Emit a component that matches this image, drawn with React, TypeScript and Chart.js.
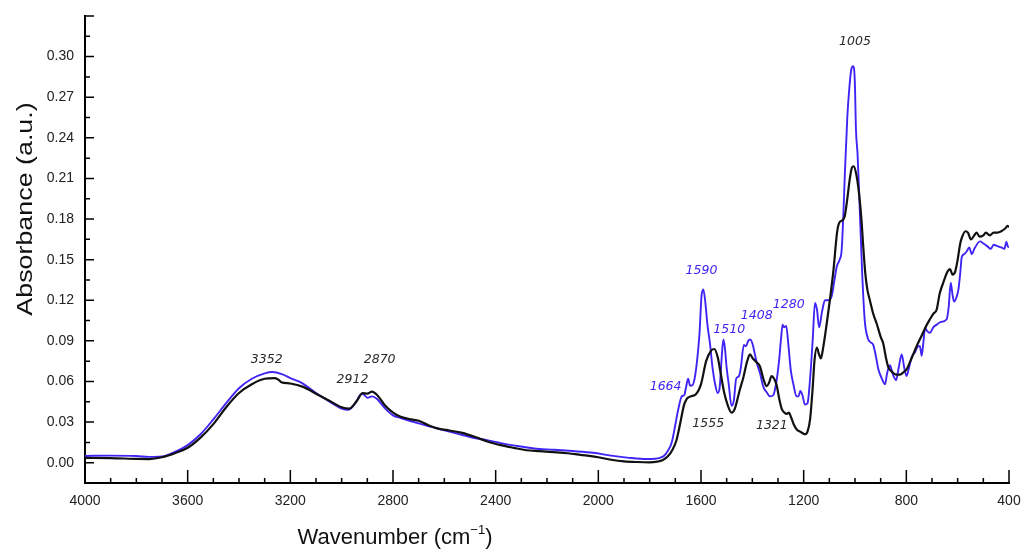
import React, { useEffect, useRef } from 'react';
import { Chart, registerables } from 'chart.js';

Chart.register(...registerables);

// ---- Data ----
const xTickValues = [4000, 3600, 3200, 2800, 2400, 2000, 1600, 1200, 800, 400];
const yTickValues = [0, 0.03, 0.06, 0.09, 0.12, 0.15, 0.18, 0.21, 0.24, 0.27, 0.3];

const wavenumbersBlack = [
  4000, 3900, 3800, 3750, 3700, 3650, 3600, 3550, 3500, 3450, 3400, 3350, 3300, 3260, 3245, 3235, 3200, 3150, 3100, 3050,
  3000, 2970, 2940, 2918, 2900, 2882, 2862, 2830, 2800, 2770, 2730, 2700, 2660, 2620, 2580, 2530, 2480, 2430, 2380, 2330,
  2280, 2230, 2175, 2120, 2070, 2000, 1950, 1900, 1850, 1800, 1770, 1750, 1730, 1710, 1695, 1680, 1667, 1656, 1640, 1620,
  1600, 1580, 1560, 1548, 1535, 1526, 1510, 1495, 1481, 1468, 1450, 1435, 1420, 1409, 1398, 1383, 1370, 1357, 1344, 1335,
  1325, 1315, 1305, 1295, 1286, 1275, 1265, 1258, 1248, 1238, 1227, 1210, 1195, 1185, 1175, 1165, 1158, 1149, 1140, 1133,
  1124, 1110, 1098, 1084, 1070, 1062, 1050, 1040, 1030, 1020, 1012, 1005, 995, 985, 975, 968, 960, 952, 942, 929,
  916, 900, 890, 880, 871, 855, 840, 825, 810, 799, 780, 760, 740, 720, 708, 695, 682, 670, 656, 640,
  630, 620, 610, 600, 590, 584, 570, 560, 548, 535, 526, 515, 500, 490, 475, 460, 445, 430, 415, 405, 400,
];
const absorbanceBlack = [
  0.0035, 0.0034, 0.0028, 0.0027, 0.004, 0.007, 0.011, 0.0185, 0.0285, 0.041, 0.0515, 0.058, 0.062, 0.0625, 0.0612, 0.0595, 0.0585, 0.056, 0.051, 0.046,
  0.041, 0.04, 0.046, 0.0515, 0.051, 0.0525, 0.05, 0.042, 0.037, 0.034, 0.032, 0.031, 0.0275, 0.025, 0.0238, 0.022, 0.019, 0.0155, 0.013, 0.011,
  0.0092, 0.0085, 0.0078, 0.007, 0.0058, 0.004, 0.0022, 0.001, 0.0005, 0.0003, 0.0008, 0.0018, 0.0045, 0.01, 0.017, 0.03, 0.042, 0.047, 0.049, 0.0505,
  0.058, 0.075, 0.083, 0.084, 0.078, 0.069, 0.052, 0.042, 0.037, 0.04, 0.053, 0.063, 0.075, 0.08, 0.077, 0.074, 0.071, 0.062, 0.0565, 0.059,
  0.064, 0.062, 0.057, 0.047, 0.04, 0.037, 0.036, 0.037, 0.033, 0.028, 0.0245, 0.0225, 0.021, 0.023, 0.032, 0.055, 0.075, 0.085, 0.08, 0.077,
  0.085, 0.103, 0.12, 0.142, 0.17, 0.177, 0.179, 0.182, 0.195, 0.21, 0.218, 0.219, 0.213, 0.2, 0.18, 0.16, 0.14, 0.128, 0.12, 0.11,
  0.103, 0.093, 0.088, 0.078, 0.071, 0.067, 0.065, 0.065, 0.067, 0.069, 0.077, 0.086, 0.094, 0.102, 0.106, 0.11, 0.113, 0.125, 0.133, 0.141,
  0.143, 0.139, 0.141, 0.15, 0.162, 0.166, 0.171, 0.17, 0.165, 0.168, 0.17, 0.167, 0.168, 0.17, 0.168, 0.17, 0.17, 0.171, 0.173, 0.175, 0.174,
];

const wavenumbersBlue = [
  4000, 3900, 3800, 3750, 3700, 3650, 3600, 3550, 3500, 3450, 3400, 3350, 3300, 3270, 3233, 3200, 3156, 3100, 3050, 3000,
  2975, 2950, 2922, 2912, 2900, 2882, 2862, 2830, 2800, 2770, 2700, 2650, 2600, 2550, 2500, 2430, 2380, 2330, 2250, 2175,
  2100, 2020, 1950, 1880, 1812, 1780, 1760, 1745, 1730, 1714, 1700, 1688, 1675, 1665, 1658, 1650, 1643, 1635, 1625, 1615,
  1606, 1598, 1591, 1584, 1575, 1565, 1555, 1545, 1535, 1527, 1520, 1513, 1507, 1500, 1492, 1481, 1472, 1463, 1452, 1445,
  1433, 1425, 1416, 1408, 1398, 1390, 1383, 1370, 1357, 1344, 1331, 1318, 1306, 1296, 1288, 1282, 1276, 1268, 1260, 1250,
  1240, 1228, 1220, 1213, 1205, 1195, 1185, 1175, 1165, 1156, 1148, 1140, 1128, 1117, 1105, 1091, 1080, 1071, 1060, 1052,
  1045, 1039, 1030, 1022, 1014, 1007, 1001, 996, 990, 982, 972, 962, 950, 940, 929, 918, 909, 895, 883, 875,
  864, 852, 840, 830, 818, 808, 799, 790, 779, 765, 755, 747, 740, 733, 727, 718, 708, 695, 682, 665,
  643, 635, 627, 620, 614, 605, 597, 590, 584, 575, 565, 555, 545, 535, 513, 500, 485, 471, 460, 445,
  430, 418, 410, 405, 400,
];
const absorbanceBlue = [
  0.005, 0.0052, 0.0049, 0.0043, 0.0046, 0.008, 0.013, 0.021, 0.032, 0.044, 0.055, 0.062, 0.066, 0.067, 0.0655, 0.0625, 0.059, 0.0515, 0.0455, 0.04,
  0.039, 0.043, 0.051, 0.05, 0.048, 0.049, 0.047, 0.04, 0.035, 0.033, 0.029, 0.0265, 0.024, 0.0215, 0.019, 0.0165, 0.0145, 0.0128, 0.0105, 0.0096,
  0.0086, 0.0073, 0.0052, 0.0036, 0.0027, 0.0029, 0.0036, 0.005, 0.0085, 0.015, 0.028, 0.04, 0.049, 0.05, 0.056, 0.062, 0.057, 0.057, 0.062, 0.076,
  0.095, 0.123, 0.128, 0.12, 0.102, 0.088, 0.07, 0.058, 0.0515, 0.056, 0.076, 0.091, 0.085, 0.07, 0.058, 0.042, 0.046, 0.062, 0.064, 0.07,
  0.087, 0.086, 0.09, 0.091, 0.087, 0.08, 0.074, 0.066, 0.056, 0.052, 0.049, 0.05, 0.06, 0.075, 0.092, 0.102, 0.1, 0.101, 0.088, 0.068,
  0.058, 0.049, 0.049, 0.053, 0.05, 0.043, 0.044, 0.062, 0.09, 0.118, 0.113, 0.1, 0.112, 0.12, 0.12, 0.123, 0.135, 0.145, 0.15, 0.157,
  0.185, 0.216, 0.255, 0.277, 0.291, 0.293, 0.283, 0.245, 0.228, 0.19, 0.14, 0.105, 0.092, 0.089, 0.087, 0.078, 0.069, 0.062, 0.058, 0.066,
  0.072, 0.065, 0.061, 0.07, 0.08, 0.07, 0.064, 0.07, 0.078, 0.082, 0.086, 0.086, 0.079, 0.09, 0.0995, 0.097, 0.096, 0.1, 0.102, 0.104,
  0.106, 0.115, 0.133, 0.124, 0.119, 0.122, 0.128, 0.14, 0.152, 0.154, 0.156, 0.159, 0.154, 0.158, 0.1635, 0.162, 0.16, 0.158, 0.161, 0.16,
  0.159, 0.158, 0.163, 0.16, 0.159,
];

// Peak annotations
const peakLabels = ['3352', '2912', '2870', '1664', '1590', '1510', '1408', '1280', '1555', '1321', '1005'];
const peakLabelWn = [3292, 2958, 2852, 1738, 1598, 1490, 1383, 1258, 1572, 1324, 1000];
const peakLabelValue = [0.076, 0.0615, 0.076, 0.056, 0.1415, 0.098, 0.1085, 0.117, 0.0285, 0.0275, 0.311];
const peakLabelSeries = ['black', 'black', 'black', 'blue', 'blue', 'blue', 'blue', 'blue', 'black', 'black', 'black'];

const BLACK = '#111111';
const BLUE = '#3f25f4';
const LABEL_BLACK = '#2a2a2a';

const toPoints = (xs: number[], ys: number[]) => xs.map((x, i) => ({ x, y: ys[i] }));

const decorPlugin = {
  id: 'decor',
  afterDatasetsDraw(chart: any) {
    const { ctx, chartArea, scales } = chart;
    const xs = scales.x;
    const ys = scales.y;
    ctx.save();
    // inner tick marks
    ctx.strokeStyle = '#000';
    ctx.lineWidth = 1.5;
    ctx.beginPath();
    for (let w = 400; w <= 4000; w += 100) {
      const px = xs.getPixelForValue(w);
      const len = w % 400 === 0 ? 13 : 5;
      ctx.moveTo(px, chartArea.bottom);
      ctx.lineTo(px, chartArea.bottom - len);
    }
    for (let i = -1; i <= 22; i++) {
      const v = i * 0.015;
      const py = ys.getPixelForValue(v);
      const len = i % 2 === 0 ? 9 : 5;
      ctx.moveTo(chartArea.left, py);
      ctx.lineTo(chartArea.left + len, py);
    }
    ctx.stroke();

    // peak labels
    ctx.font = 'italic 12.5px "DejaVu Sans", sans-serif';
    ctx.textAlign = 'center';
    ctx.textBaseline = 'middle';
    peakLabels.forEach((t, i) => {
      ctx.fillStyle = peakLabelSeries[i] === 'blue' ? BLUE : LABEL_BLACK;
      ctx.fillText(t, xs.getPixelForValue(peakLabelWn[i]), ys.getPixelForValue(peakLabelValue[i]));
    });

    // y title
    ctx.fillStyle = '#111';
    ctx.save();
    ctx.translate(26, 209);
    ctx.rotate(-Math.PI / 2);
    ctx.scale(1.22, 1);
    ctx.font = '22px "Liberation Sans", Arial, sans-serif';
    ctx.textAlign = 'center';
    ctx.textBaseline = 'middle';
    ctx.fillText('Absorbance (a.u.)', 0, 0);
    ctx.restore();

    // x title with superscript
    const mainFont = '22px "Liberation Sans", Arial, sans-serif';
    const supFont = '13px "Liberation Sans", Arial, sans-serif';
    const p1 = 'Wavenumber (cm';
    const sup = '\u22121';
    const p3 = ')';
    ctx.font = mainFont;
    const w1 = ctx.measureText(p1).width;
    const w3 = ctx.measureText(p3).width;
    ctx.font = supFont;
    const w2 = ctx.measureText(sup).width;
    const total = w1 + w2 + w3;
    const cx = chartArea.left + 310;
    const cy = 538;
    const x0 = cx - total / 2;
    ctx.textAlign = 'left';
    ctx.textBaseline = 'middle';
    ctx.font = mainFont;
    ctx.fillText(p1, x0, cy);
    ctx.font = supFont;
    ctx.fillText(sup, x0 + w1, cy - 8);
    ctx.font = mainFont;
    ctx.fillText(p3, x0 + w1 + w2, cy);
    ctx.restore();
  },
};

export default function App() {
  const ref = useRef<HTMLCanvasElement>(null);
  useEffect(() => {
    document.body.style.margin = '0';
    const canvas = ref.current;
    if (!canvas) return;
    const tickFont = { family: '"Liberation Sans", Arial, sans-serif', size: 14 };
    const chart = new Chart(canvas, {
      type: 'line',
      data: {
        datasets: [
          {
            label: 'black',
            data: toPoints(wavenumbersBlack, absorbanceBlack),
            borderColor: BLACK,
            borderWidth: 2.2,
            pointRadius: 0,
            cubicInterpolationMode: 'monotone',
            fill: false,
          },
          {
            label: 'blue',
            data: toPoints(wavenumbersBlue, absorbanceBlue),
            borderColor: BLUE,
            borderWidth: 1.9,
            pointRadius: 0,
            cubicInterpolationMode: 'monotone',
            fill: false,
          },
        ],
      },
      options: {
        responsive: false,
        animation: false,
        devicePixelRatio: 1,
        layout: { padding: { left: 0, right: 15, top: 16, bottom: 0 } },
        plugins: { legend: { display: false }, tooltip: { enabled: false } },
        scales: {
          x: {
            type: 'linear',
            min: 400,
            max: 4000,
            reverse: true,
            grid: { display: false, drawTicks: false },
            border: { display: true, color: '#000', width: 2 },
            ticks: {
              color: '#222',
              font: tickFont,
              padding: 10,
              maxRotation: 0,
              autoSkip: false,
              callback: (v: any) => String(v),
            },
            afterBuildTicks: (scale: any) => {
              scale.ticks = xTickValues.map((value) => ({ value }));
            },
            afterFit: (scale: any) => {
              scale.height = 66;
              scale.paddingLeft = 0;
              scale.paddingRight = 0;
            },
          },
          y: {
            type: 'linear',
            min: -0.015,
            max: 0.33,
            grid: { display: false, drawTicks: false },
            border: { display: true, color: '#000', width: 2 },
            ticks: {
              color: '#222',
              font: tickFont,
              padding: 11,
              autoSkip: false,
              callback: (v: any) => Number(v).toFixed(2),
            },
            afterBuildTicks: (scale: any) => {
              scale.ticks = yTickValues.map((value) => ({ value }));
            },
            afterFit: (scale: any) => {
              scale.width = 85;
              scale.paddingTop = 0;
              scale.paddingBottom = 0;
            },
          },
        },
      },
      plugins: [decorPlugin],
    } as any);
    return () => chart.destroy();
  }, []);
  return (
    <div style={{ width: 1024, height: 549, position: 'relative', background: '#fff' }}>
      <canvas ref={ref} width={1024} height={549} style={{ display: 'block' }} />
    </div>
  );
}
